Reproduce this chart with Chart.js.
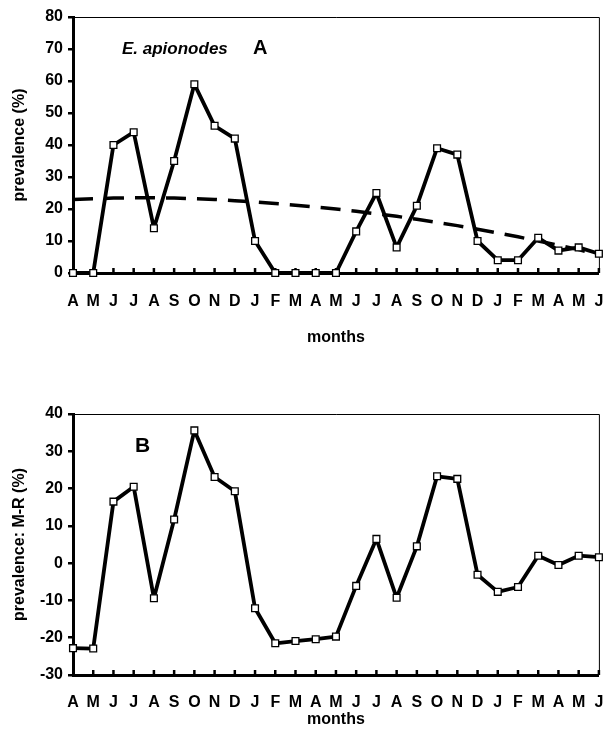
<!DOCTYPE html>
<html>
<head>
<meta charset="utf-8">
<script src="https://cdn.jsdelivr.net/npm/chart.js@4/dist/chart.umd.min.js"></script>
<style>
  body { margin: 0; background: #fff; }
  .panel { position: absolute; left: 0; width: 605px; }
  #wrapA { top: 0; height: 350px; }
  #wrapB { top: 380px; height: 349px; }
</style>
</head>
<body>
<div class="panel" id="wrapA"><canvas id="chartA"></canvas></div>
<div class="panel" id="wrapB"><canvas id="chartB"></canvas></div>
<script>
// month labels, April through the following-following June
const months = ['A','M','J','J','A','S','O','N','D','J','F','M','A','M','J','J','A','S','O','N','D','J','F','M','A','M','J'];

// panel A: prevalence (%) of E. apionodes
const prevalence = [0, 0, 40, 44, 14, 35, 59, 46, 42, 10, 0, 0, 0, 0, 13, 25, 8, 21, 39, 37, 10, 4, 4, 11, 7, 8, 6];
// dashed trend line
const trend = [23, 23.2, 23.4, 23.5, 23.5, 23.4, 23.2, 23, 22.6, 22.2, 21.7, 21.2, 20.6, 20, 19.3, 18.5, 17.7, 16.8, 15.8, 14.8, 13.7, 12.5, 11.3, 10, 8.7, 7.3, 5.6];

// panel B: prevalence minus running mean
const residual = [-22.8, -22.9, 16.5, 20.5, -9.4, 11.7, 35.6, 23.1, 19.3, -12.1, -21.5, -20.9, -20.4, -19.7, -6.1, 6.5, -9.3, 4.5, 23.3, 22.6, -3.1, -7.7, -6.4, 2.0, -0.5, 2.0, 1.6];

const boldFont = { family: 'Liberation Sans, Arial, sans-serif', size: 16, weight: 'bold' };

// inside tick marks on the month axis + thin top/right frame
const framePlugin = {
    id: 'frame',
    beforeDatasetsDraw(chart) {
        const { ctx, chartArea } = chart;
        const xs = chart.scales.x;
        ctx.save();
        ctx.strokeStyle = '#000';
        ctx.lineWidth = 2.5;
        for (let i = 1; i < months.length; i++) {
            const px = xs.getPixelForTick(i);
            ctx.beginPath();
            ctx.moveTo(px, chartArea.bottom);
            ctx.lineTo(px, chartArea.bottom - 5);
            ctx.stroke();
        }
        ctx.lineWidth = 1;
        ctx.beginPath();
        ctx.moveTo(chartArea.left, chartArea.top + 0.5);
        ctx.lineTo(chartArea.right + 0.5, chartArea.top + 0.5);
        ctx.lineTo(chartArea.right + 0.5, chartArea.bottom);
        ctx.stroke();
        ctx.restore();
    }
};

function textPlugin(items) {
    return {
        id: 'panelText',
        afterDraw(chart) {
            const ctx = chart.ctx;
            ctx.save();
            ctx.fillStyle = '#000';
            ctx.textBaseline = 'middle';
            items.forEach(t => {
                ctx.font = t.font;
                ctx.fillText(t.text, t.x, t.y);
            });
            ctx.restore();
        }
    };
}

function makeChart(canvasId, opts) {
    const datasets = [{
        data: opts.values,
        borderColor: '#000',
        borderWidth: 3.8,
        borderJoinStyle: 'round',
        tension: 0,
        pointStyle: 'rect',
        pointRadius: 4.8,
        pointBackgroundColor: '#fff',
        pointBorderColor: '#000',
        pointBorderWidth: 1.3,
        clip: false,
        order: 1
    }];
    if (opts.trend) {
        datasets.push({
            data: opts.trend,
            borderColor: '#000',
            borderWidth: 3.5,
            borderDash: [20, 11],
            pointRadius: 0,
            tension: 0,
            clip: false,
            order: 2
        });
    }
    return new Chart(document.getElementById(canvasId), {
        type: 'line',
        data: { labels: months, datasets: datasets },
        options: {
            responsive: true,
            maintainAspectRatio: false,
            animation: false,
            layout: { padding: opts.padding },
            plugins: { legend: { display: false }, tooltip: { enabled: false } },
            scales: {
                x: {
                    type: 'category',
                    offset: false,
                    grid: { display: false, drawTicks: false },
                    border: { display: true, color: '#000', width: 3 },
                    ticks: { autoSkip: false, maxRotation: 0, color: '#000', font: boldFont, padding: opts.xPad },
                    title: { display: true, text: 'months', color: '#000', font: boldFont, padding: { top: 0, bottom: opts.titleBottom } },
                    afterFit: s => {
                        s.height = opts.xHeight;
                        s.paddingLeft = 0;
                        s.paddingRight = 0;
                    }
                },
                y: {
                    min: opts.yMin,
                    max: opts.yMax,
                    grid: { drawOnChartArea: false, drawTicks: true, tickLength: 5, color: '#000', lineWidth: 2.5 },
                    border: { display: true, color: '#000', width: 3 },
                    ticks: { stepSize: 10, color: '#000', font: boldFont, padding: 5 },
                    title: { display: true, text: opts.yTitle, color: '#000', font: boldFont, padding: { top: 10, bottom: 0 } },
                    afterFit: s => { s.width = 73; }
                }
            }
        },
        plugins: [framePlugin, textPlugin(opts.labels)]
    });
}

makeChart('chartA', {
    values: prevalence,
    trend: trend,
    yMin: 0, yMax: 80,
    yTitle: 'prevalence (%)',
    padding: { top: 17, right: 5, left: 0, bottom: 0 },
    xHeight: 77, xPad: 19, titleBottom: 3,
    labels: [
        { text: 'E. apionodes', x: 122, y: 49, font: 'italic bold 17px Liberation Sans, Arial, sans-serif' },
        { text: 'A', x: 253, y: 48, font: 'bold 20px Liberation Sans, Arial, sans-serif' }
    ]
});

makeChart('chartB', {
    values: residual,
    yMin: -30, yMax: 40,
    yTitle: 'prevalence: M-R (%)',
    padding: { top: 34, right: 1, left: 0, bottom: 0 },
    xHeight: 54, xPad: 18, titleBottom: 0,
    labels: [
        { text: 'B', x: 135, y: 66, font: 'bold 21px Liberation Sans, Arial, sans-serif' }
    ]
});
</script>
</body>
</html>
